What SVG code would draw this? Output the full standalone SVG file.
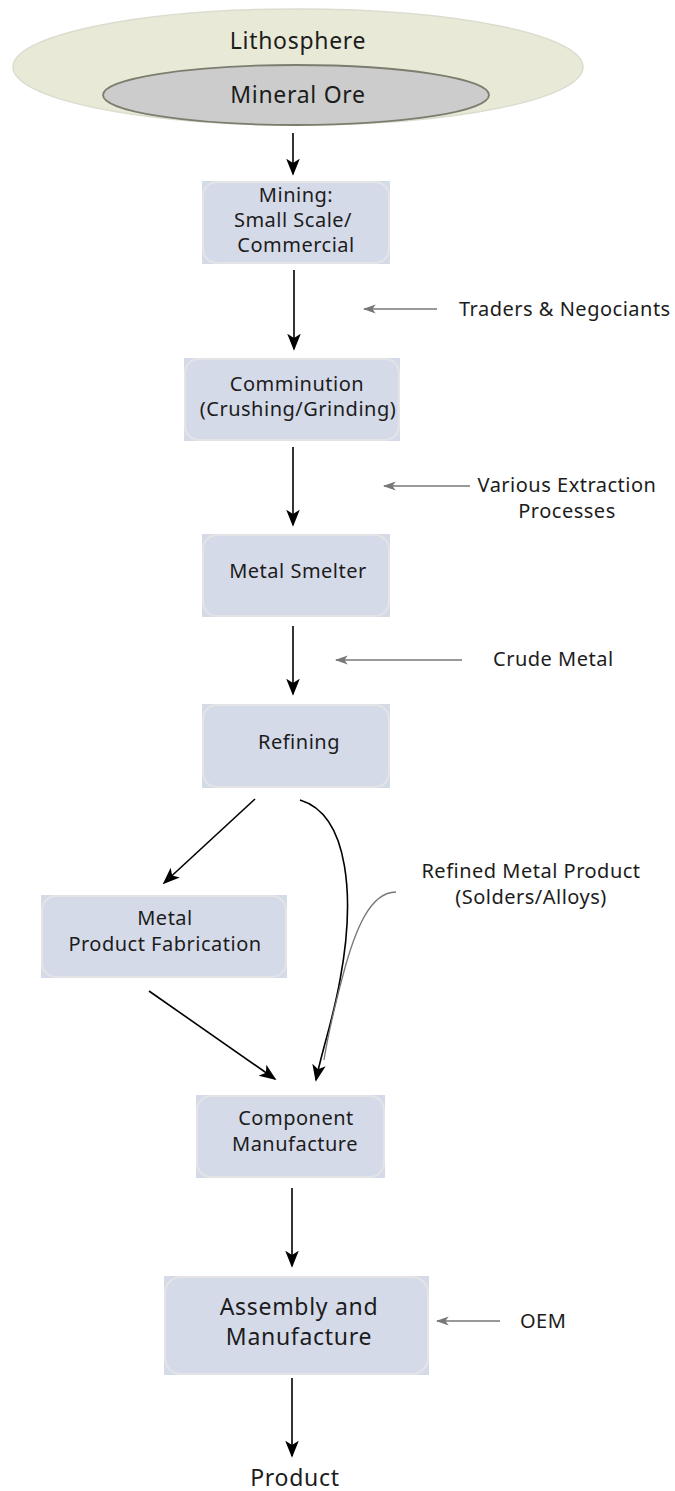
<svg xmlns="http://www.w3.org/2000/svg" width="675" height="1491" viewBox="0 0 675 1491">
  <style>
    text { font-family: "Noto Sans", "Open Sans", sans-serif; fill: #1c1c1c; }
    .box { fill: #d5dae9; }
    .frame { fill: none; stroke: #e4e4e6; stroke-width: 2; }
    .lbl { font-size: 20px; letter-spacing: 0.5px; text-anchor: middle; }
    .big { font-size: 23px; letter-spacing: 0.7px; text-anchor: middle; }
    .side { font-size: 20px; letter-spacing: 0.5px; }
    .mid { text-anchor: middle; }
    .flow { fill: none; stroke: #000; stroke-width: 1.6; marker-end: url(#head); }
    .note { fill: none; stroke: #777; stroke-width: 1.4; marker-end: url(#grayhead); }
  </style>
  <defs>
    <marker id="head" viewBox="0 0 20 20" refX="18" refY="10" markerWidth="17" markerHeight="17" markerUnits="userSpaceOnUse" orient="auto">
      <path d="M0,2 L20,10 L0,18 L5,10 Z" fill="#000"/>
    </marker>
    <marker id="grayhead" viewBox="0 0 20 20" refX="18" refY="10" markerWidth="13" markerHeight="13" markerUnits="userSpaceOnUse" orient="auto">
      <path d="M0,3 L20,10 L0,17 L5,10 Z" fill="#777"/>
    </marker>
  </defs>

  <!-- source ellipses -->
  <g id="lithosphere">
    <ellipse cx="298" cy="67" rx="285" ry="58" fill="#e8e9d7" stroke="#dcdccf" stroke-width="1.5"/>
    <text class="big" x="298" y="49">Lithosphere</text>
  </g>
  <g id="mineral-ore">
    <ellipse cx="296" cy="95" rx="193" ry="30" fill="#cbcccb" stroke="#7d7d6f" stroke-width="1.8"/>
    <text class="big" x="298" y="103">Mineral Ore</text>
  </g>

  <!-- process boxes -->
  <g id="mining">
    <rect class="box" x="202" y="181" width="188" height="83"/>
    <rect class="frame" x="203" y="182" width="186" height="81" rx="14"/>
    <text class="lbl" x="296" y="202">Mining:</text>
    <text class="lbl" x="293" y="227">Small Scale/</text>
    <text class="lbl" x="296" y="252">Commercial</text>
  </g>
  <g id="comminution">
    <rect class="box" x="184" y="358" width="216" height="83"/>
    <rect class="frame" x="185" y="359" width="214" height="81" rx="14"/>
    <text class="lbl" x="297" y="391">Comminution</text>
    <text class="lbl" x="298" y="416">(Crushing/Grinding)</text>
  </g>
  <g id="smelter">
    <rect class="box" x="202" y="534" width="188" height="83"/>
    <rect class="frame" x="203" y="535" width="186" height="81" rx="14"/>
    <text class="lbl" x="298" y="578">Metal Smelter</text>
  </g>
  <g id="refining">
    <rect class="box" x="202" y="704" width="188" height="84"/>
    <rect class="frame" x="203" y="705" width="186" height="82" rx="14"/>
    <text class="lbl" x="299" y="749">Refining</text>
  </g>
  <g id="fabrication">
    <rect class="box" x="41" y="895" width="246" height="83"/>
    <rect class="frame" x="42" y="896" width="244" height="81" rx="14"/>
    <text class="lbl" x="165" y="925">Metal</text>
    <text class="lbl" x="165" y="951">Product Fabrication</text>
  </g>
  <g id="component">
    <rect class="box" x="196" y="1095" width="189" height="83"/>
    <rect class="frame" x="197" y="1096" width="187" height="81" rx="14"/>
    <text class="lbl" x="296" y="1125">Component</text>
    <text class="lbl" x="295" y="1151">Manufacture</text>
  </g>
  <g id="assembly">
    <rect class="box" x="164" y="1276" width="265" height="99"/>
    <rect class="frame" x="165" y="1277" width="263" height="97" rx="16"/>
    <text class="big" x="299" y="1315">Assembly and</text>
    <text class="big" x="299" y="1345">Manufacture</text>
  </g>
  <g id="product">
    <text class="big" x="295" y="1486">Product</text>
  </g>

  <!-- side notes -->
  <g id="note-traders">
    <text class="side" x="459" y="316">Traders &amp; Negociants</text>
  </g>
  <g id="note-extraction">
    <text class="side mid" x="567" y="492">Various Extraction</text>
    <text class="side mid" x="567" y="518">Processes</text>
  </g>
  <g id="note-crude">
    <text class="side" x="493" y="666">Crude Metal</text>
  </g>
  <g id="note-refined">
    <text class="side mid" x="531" y="878">Refined Metal Product</text>
    <text class="side mid" x="531" y="904">(Solders/Alloys)</text>
  </g>
  <g id="note-oem">
    <text class="side" x="520" y="1328">OEM</text>
  </g>

  <!-- connectors -->
  <g id="connectors">
    <path class="flow" d="M293,133 L293,174"/>
    <path class="flow" d="M294,270 L294,349"/>
    <path class="flow" d="M293,447 L293,525"/>
    <path class="flow" d="M293,626 L293,694"/>
    <path class="flow" d="M255,799 L164,883"/>
    <path class="flow" d="M300,800 C350,815 355,900 340,980 C333,1020 322,1050 316,1080"/>
    <path class="flow" d="M149,991 L275,1079"/>
    <path class="flow" d="M292,1188 L292,1266"/>
    <path class="flow" d="M292,1378 L292,1456"/>

    <path class="note" d="M437,309 L364,309"/>
    <path class="note" d="M470,486 L384,486"/>
    <path class="note" d="M462,660 L336,660"/>
    <path class="note" d="M500,1321 L437,1321"/>
    <path fill="none" stroke="#777" stroke-width="1.3" d="M396,892 C370,892 355,930 343,975 C335,1005 328,1035 324,1060"/>
  </g>
</svg>
